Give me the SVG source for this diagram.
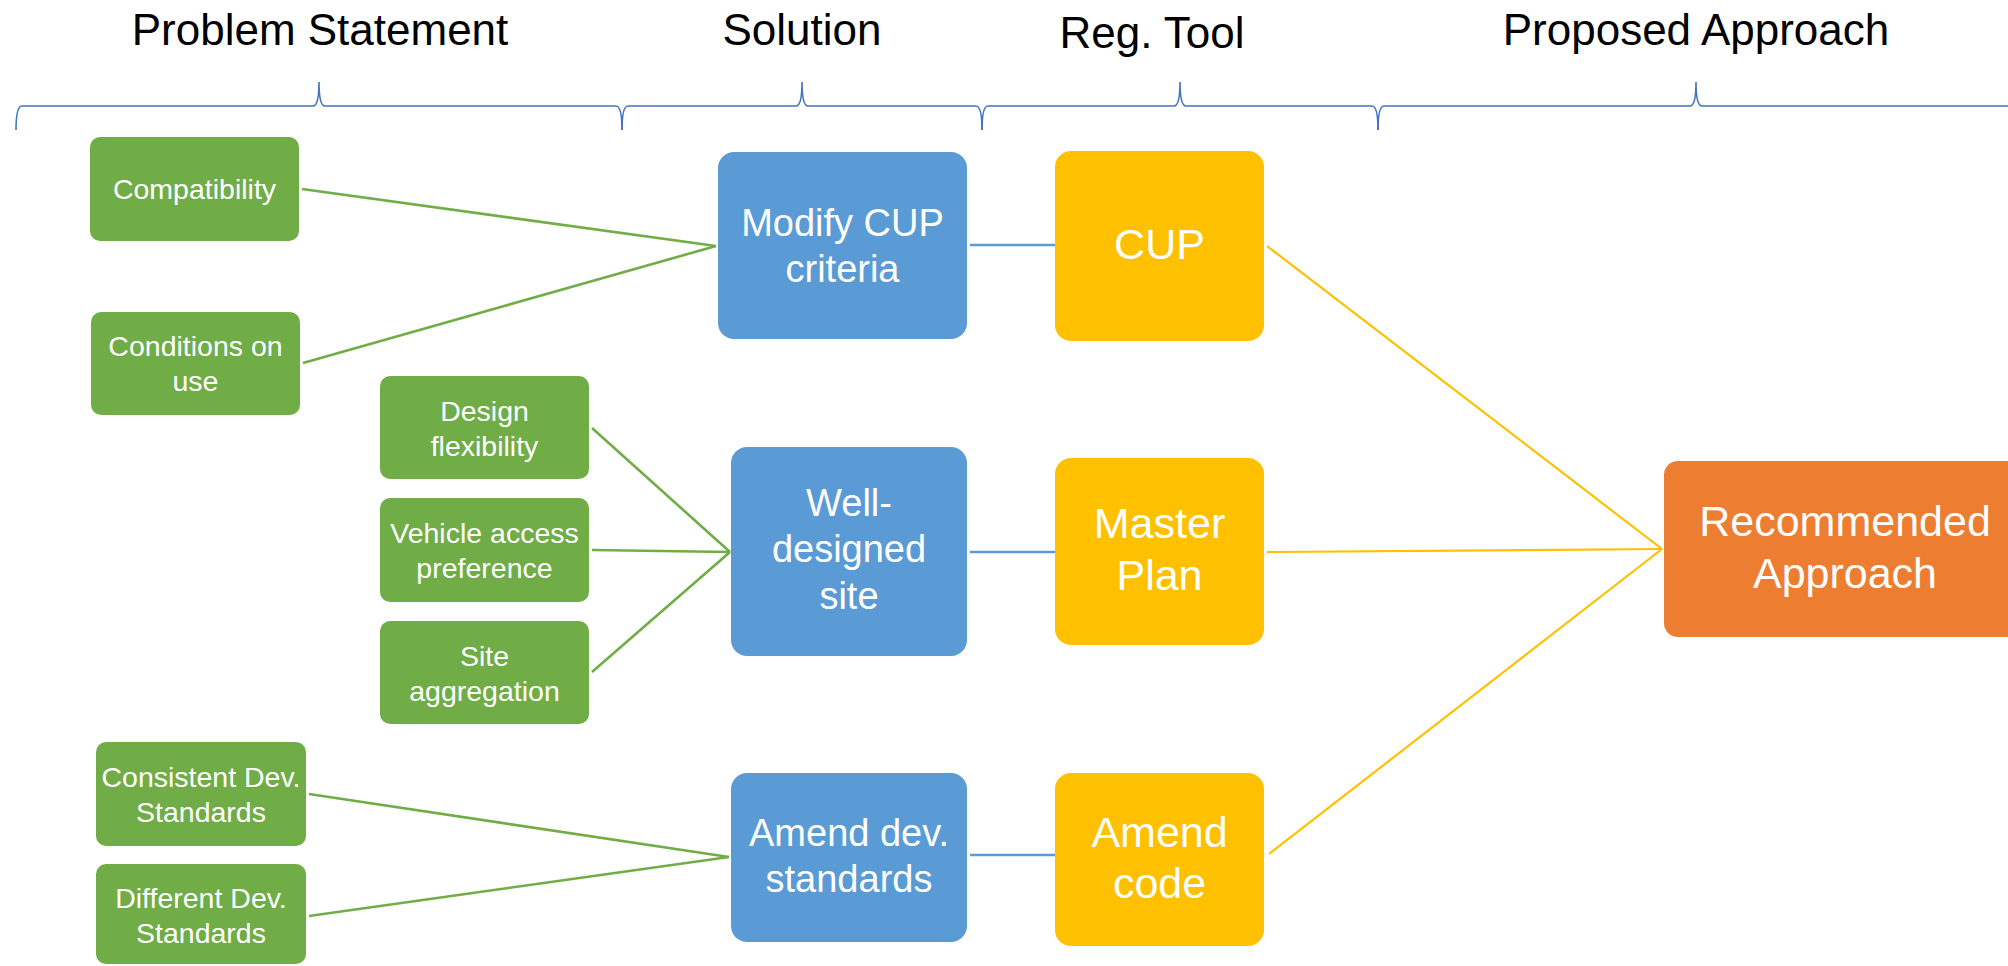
<svg xmlns="http://www.w3.org/2000/svg" width="2008" height="966" viewBox="0 0 2008 966">
  <style>
    text { font-family: "Liberation Sans", Arial, sans-serif; text-anchor: middle; }
    .hdr { font-size: 44px; fill: #000; }
    .brace { fill: none; stroke: #4472C4; stroke-width: 1.6; }
    .g rect { fill: #70AD47; }
    .b rect { fill: #5B9BD5; }
    .y rect { fill: #FFC000; }
    .o rect { fill: #ED7D31; }
    .g text { font-size: 28.5px; fill: #fff; }
    .b text { font-size: 38px; fill: #fff; }
    .y text, .o text { font-size: 43px; fill: #fff; }
    .lg { stroke: #70AD47; stroke-width: 2.6; fill: none; }
    .lb { stroke: #5B9BD5; stroke-width: 2.6; fill: none; }
    .ly { stroke: #FFC000; stroke-width: 2.2; fill: none; }
  </style>

  <!-- column headings -->
  <g id="headers">
    <text class="hdr" x="320" y="45">Problem Statement</text>
    <text class="hdr" x="802" y="45">Solution</text>
    <text class="hdr" x="1152" y="48">Reg. Tool</text>
    <text class="hdr" x="1696" y="45">Proposed Approach</text>
  </g>

  <!-- column braces -->
  <g id="braces">
    <path class="brace" d="M16,130 Q16,106 22,106 L313,106 Q319,106 319,82 Q319,106 325,106 L616,106 Q622,106 622,130"/>
    <path class="brace" d="M622,130 Q622,106 628,106 L796,106 Q802,106 802,82 Q802,106 808,106 L976,106 Q982,106 982,130"/>
    <path class="brace" d="M982,130 Q982,106 988,106 L1174,106 Q1180,106 1180,82 Q1180,106 1186,106 L1372,106 Q1378,106 1378,130"/>
    <path class="brace" d="M1378,130 Q1378,106 1384,106 L1690,106 Q1696,106 1696,82 Q1696,106 1702,106 L2010,106"/>
  </g>

  <!-- connectors -->
  <g id="connectors">
    <line class="lg" x1="302" y1="189" x2="716" y2="246"/>
    <line class="lg" x1="303" y1="363" x2="716" y2="246"/>
    <line class="lg" x1="592" y1="428" x2="730" y2="552"/>
    <line class="lg" x1="592" y1="550" x2="730" y2="552"/>
    <line class="lg" x1="592" y1="672" x2="730" y2="552"/>
    <line class="lg" x1="309" y1="794" x2="729" y2="857"/>
    <line class="lg" x1="309" y1="916" x2="729" y2="857"/>
    <line class="lb" x1="970" y1="245" x2="1055" y2="245"/>
    <line class="lb" x1="970" y1="552" x2="1055" y2="552"/>
    <line class="lb" x1="970" y1="855" x2="1055" y2="855"/>
    <line class="ly" x1="1267" y1="246" x2="1662" y2="549"/>
    <line class="ly" x1="1267" y1="552" x2="1662" y2="549"/>
    <line class="ly" x1="1269" y1="854" x2="1662" y2="549"/>
  </g>

  <!-- problem statements -->
  <g id="compatibility" class="g">
    <rect x="90" y="137" width="209" height="104" rx="10"/>
    <text x="194.5" y="199">Compatibility</text>
  </g>
  <g id="conditions-on-use" class="g">
    <rect x="91" y="312" width="209" height="103" rx="10"/>
    <text x="195.5" y="356">Conditions on</text>
    <text x="195.5" y="391">use</text>
  </g>
  <g id="design-flexibility" class="g">
    <rect x="380" y="376" width="209" height="103" rx="10"/>
    <text x="484.5" y="421">Design</text>
    <text x="484.5" y="456">flexibility</text>
  </g>
  <g id="vehicle-access" class="g">
    <rect x="380" y="498" width="209" height="104" rx="10"/>
    <text x="484.5" y="543">Vehicle access</text>
    <text x="484.5" y="578">preference</text>
  </g>
  <g id="site-aggregation" class="g">
    <rect x="380" y="621" width="209" height="103" rx="10"/>
    <text x="484.5" y="666">Site</text>
    <text x="484.5" y="701">aggregation</text>
  </g>
  <g id="consistent-dev" class="g">
    <rect x="96" y="742" width="210" height="104" rx="10"/>
    <text x="201" y="787">Consistent Dev.</text>
    <text x="201" y="822">Standards</text>
  </g>
  <g id="different-dev" class="g">
    <rect x="96" y="864" width="210" height="100" rx="10"/>
    <text x="201" y="908">Different Dev.</text>
    <text x="201" y="943">Standards</text>
  </g>

  <!-- solutions -->
  <g id="modify-cup" class="b">
    <rect x="718" y="152" width="249" height="187" rx="16"/>
    <text x="842.5" y="236">Modify CUP</text>
    <text x="842.5" y="282">criteria</text>
  </g>
  <g id="well-designed" class="b">
    <rect x="731" y="447" width="236" height="209" rx="16"/>
    <text x="849" y="516">Well-</text>
    <text x="849" y="562">designed</text>
    <text x="849" y="609">site</text>
  </g>
  <g id="amend-dev" class="b">
    <rect x="731" y="773" width="236" height="169" rx="16"/>
    <text x="849" y="846">Amend dev.</text>
    <text x="849" y="892">standards</text>
  </g>

  <!-- regulatory tools -->
  <g id="cup" class="y">
    <rect x="1055" y="151" width="209" height="190" rx="16"/>
    <text x="1159.5" y="259">CUP</text>
  </g>
  <g id="master-plan" class="y">
    <rect x="1055" y="458" width="209" height="187" rx="16"/>
    <text x="1159.5" y="538">Master</text>
    <text x="1159.5" y="590">Plan</text>
  </g>
  <g id="amend-code" class="y">
    <rect x="1055" y="773" width="209" height="173" rx="16"/>
    <text x="1159.5" y="847">Amend</text>
    <text x="1159.5" y="898">code</text>
  </g>

  <!-- outcome -->
  <g id="recommended" class="o">
    <rect x="1664" y="461" width="362" height="176" rx="14"/>
    <text x="1845" y="536">Recommended</text>
    <text x="1845" y="588">Approach</text>
  </g>
</svg>
